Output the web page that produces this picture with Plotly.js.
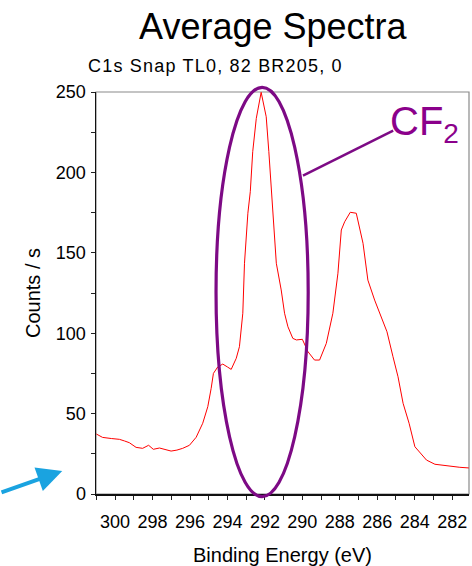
<!DOCTYPE html>
<html>
<head>
<meta charset="utf-8">
<script src="https://cdn.plot.ly/plotly-3.0.1.min.js"></script>
<style>
html,body{margin:0;padding:0;background:#fff;}
#chart{width:472px;height:566px;}
</style>
</head>
<body>
<div id="chart"></div>
<script>
// Binding energy (eV) and counts per second
const bindingEnergy = [301.0, 300.67, 300.2, 299.77, 299.5, 299.24, 298.88, 298.53, 298.21, 297.96,
  297.63, 297.3, 297.01, 296.7, 296.39, 296.03, 295.67, 295.32, 295.05, 294.87,
  294.75, 294.52, 294.25, 294.0, 293.8, 293.53, 293.36, 293.18, 293.09, 292.91,
  292.78, 292.65, 292.46, 292.2, 291.93, 291.79, 291.66, 291.58, 291.39, 291.13,
  290.95, 290.77, 290.51, 290.32, 290.15, 290.0, 289.7, 289.35, 289.08, 288.72,
  288.37, 288.1, 287.92, 287.74, 287.44, 287.12, 286.76, 286.5, 286.14, 285.78,
  285.48, 285.16, 284.89, 284.62, 284.3, 283.99, 283.37, 282.92, 282.3, 281.59, 281.11];
const countsPerSecond = [37.3, 35.2, 34.5, 34.0, 33.0, 31.9, 29.0, 28.4, 30.3, 27.8,
  28.6, 27.5, 26.7, 27.3, 28.4, 30.3, 35.3, 44.0, 54.3, 65.7,
  75.0, 79.0, 80.8, 79.0, 77.5, 84.4, 91.6, 112.4, 143.5, 174.6,
  188.0, 212.9, 233.6, 249.8, 234.6, 212.9, 188.0, 174.6, 143.5, 126.9,
  112.4, 104.0, 96.8, 95.8, 95.8, 96.2, 88.5, 83.3, 83.3, 93.7,
  112.4, 137.3, 164.2, 169.3, 175.2, 174.6, 155.9, 133.0, 120.6, 110.3,
  100.9, 85.4, 72.9, 56.4, 44.0, 29.4, 21.1, 18.5, 17.4, 16.6, 16.2];

const xRange = [301.02, 281.1];
const yRange = [0, 250];
const xTickVals = [300, 298, 296, 294, 292, 290, 288, 286, 284, 282];
const yTickVals = [0, 50, 100, 150, 200, 250];

const FONT = 'Liberation Sans, Arial, sans-serif';

const traces = [{
  type: 'scatter',
  mode: 'lines',
  x: bindingEnergy,
  y: countsPerSecond,
  line: {color: '#ff0000', width: 1},
  hoverinfo: 'x+y',
  showlegend: false
}];

const layout = {
  width: 472,
  height: 566,
  margin: {l: 96, r: 3, t: 92, b: 72},
  paper_bgcolor: '#ffffff',
  plot_bgcolor: '#ffffff',
  font: {family: FONT, color: '#000000', size: 18},
  showlegend: false,
  title: {
    text: 'Average Spectra',
    font: {family: FONT, size: 36, color: '#000000'},
    xref: 'container', x: 0.578, xanchor: 'center',
    yref: 'container', y: 0.953, yanchor: 'middle'
  },
  xaxis: {
    range: xRange,
    tickmode: 'array',
    tickvals: xTickVals,
    ticktext: xTickVals.map(String),
    ticks: 'outside', ticklen: 4, tickwidth: 1, tickcolor: '#222',
    minor: {dtick: 1, tick0: 0, ticks: 'outside', ticklen: 4, tickwidth: 1, tickcolor: '#222', showgrid: false},
    showline: true, linecolor: '#111', linewidth: 1.5,
    showgrid: false, zeroline: false,
    tickfont: {family: FONT, size: 18, color: '#000'},
    ticklabelstandoff: 7,
    title: {text: 'Binding Energy (eV)', font: {family: FONT, size: 20, color: '#000'}, standoff: 18}
  },
  yaxis: {
    range: yRange,
    tickmode: 'array',
    tickvals: yTickVals,
    ticktext: yTickVals.map(String),
    ticks: 'outside', ticklen: 4, tickwidth: 1, tickcolor: '#222',
    minor: {dtick: 25, tick0: 0, ticks: 'outside', ticklen: 4, tickwidth: 1, tickcolor: '#222', showgrid: false},
    showline: true, linecolor: '#111', linewidth: 1.5,
    showgrid: false, zeroline: false,
    tickfont: {family: FONT, size: 18, color: '#000'},
    ticklabelstandoff: 1,
    title: {text: 'Counts / s', font: {family: FONT, size: 20, color: '#000'}, standoff: 10}
  },
  xaxis2: {
    overlaying: 'x', anchor: 'y', side: 'bottom', range: xRange,
    tickmode: 'linear', tick0: 0, dtick: 1,
    ticks: 'inside', ticklen: 4, tickwidth: 1, tickcolor: '#222',
    showticklabels: false, showline: false, showgrid: false, zeroline: false
  },
  yaxis2: {
    overlaying: 'y', anchor: 'x', side: 'left', range: yRange,
    tickmode: 'linear', tick0: 0, dtick: 25,
    ticks: 'inside', ticklen: 4, tickwidth: 1, tickcolor: '#222',
    showticklabels: false, showline: false, showgrid: false, zeroline: false
  },
  shapes: [
    {type: 'rect', xref: 'paper', yref: 'paper', x0: 0, x1: 1, y0: 0, y1: 1,
     line: {color: '#8a8a8a', width: 1.2}, layer: 'below'},
    {type: 'circle', xref: 'paper', yref: 'paper', x0: 0.3218, x1: 0.5689, y0: -0.0067, y1: 1.0117,
     line: {color: '#7d0a85', width: 3.2}},
    {type: 'line', xref: 'paper', yref: 'paper', x0: 0.5549, y0: 0.7918, x1: 0.7967, y1: 0.9037,
     line: {color: '#7d0a85', width: 2.5}}
  ],
  annotations: [
    {text: 'C1s Snap TL0, 82 BR205, 0', xref: 'paper', yref: 'paper',
     x: 0.014, xanchor: 'left', y: 1.064, yanchor: 'middle', showarrow: false,
     font: {family: FONT, size: 18, color: '#000'}},
    {text: 'CF<sub>2</sub>', xref: 'paper', yref: 'paper',
     x: 0.782, xanchor: 'left', y: 0.92, yanchor: 'middle', showarrow: false,
     font: {family: FONT, size: 40, color: '#8b008b'}},
    {text: '', xref: 'paper', yref: 'paper', x: -0.0905, y: 0.0572,
     showarrow: true, axref: 'pixel', ayref: 'pixel', ax: -68, ay: 22,
     arrowcolor: '#1aa3e0', arrowwidth: 4, arrowhead: 2, arrowsize: 1.25, standoff: 0}
  ]
};

Plotly.newPlot('chart', traces, layout, {displayModeBar: false, staticPlot: true}).then(function (gd) {
  const t = gd.querySelectorAll('.annotation-text')[0];
  if (t) { t.style.letterSpacing = '1.2px'; }
});
</script>
</body>
</html>
